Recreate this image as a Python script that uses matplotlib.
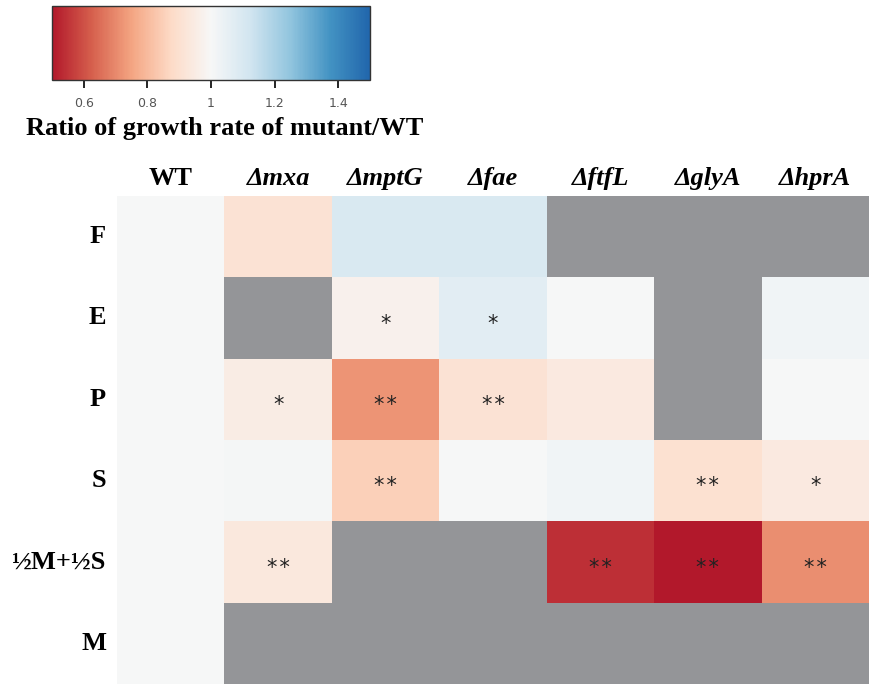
import numpy as np
import matplotlib.pyplot as plt
import matplotlib as mpl

strains = ["WT", "Δmxa", "ΔmptG", "Δfae", "ΔftfL", "ΔglyA", "ΔhprA"]
media = ["F", "E", "P", "S", "½M+½S", "M"]

# ratio of growth rate mutant/WT, nan = no growth / not measured
F_vals = [1.0, 0.91, 1.10, 1.10, np.nan, np.nan, np.nan]
E_vals = [1.0, np.nan, 0.97, 1.07, 1.00, np.nan, 1.02]
P_vals = [1.0, 0.95, 0.72, 0.91, 0.94, np.nan, 1.00]
S_vals = [1.0, 1.01, 0.85, 1.00, 1.02, 0.90, 0.94]
MS_vals = [1.0, 0.93, np.nan, np.nan, 0.54, 0.50, 0.71]
M_vals = [1.0, np.nan, np.nan, np.nan, np.nan, np.nan, np.nan]

F_sig = ["", "", "", "", "", "", ""]
E_sig = ["", "", "*", "*", "", "", ""]
P_sig = ["", "*", "**", "**", "", "", ""]
S_sig = ["", "", "**", "", "", "**", "*"]
MS_sig = ["", "**", "", "", "**", "**", "**"]
M_sig = ["", "", "", "", "", "", ""]

data = np.ma.masked_invalid(np.array([F_vals, E_vals, P_vals, S_vals, MS_vals, M_vals]))
sig = [F_sig, E_sig, P_sig, S_sig, MS_sig, M_sig]

# brewer RdBu, 9 classes
rdbu9 = ["#B2182B", "#D6604D", "#F4A582", "#FDDBC7", "#F7F7F7",
         "#D1E5F0", "#92C5DE", "#4393C3", "#2166AC"]
cmap = mpl.colors.LinearSegmentedColormap.from_list("rdbu9", rdbu9)
cmap.set_bad("#949598")
norm = mpl.colors.Normalize(vmin=0.5, vmax=1.5)

fig = plt.figure(figsize=(8.69, 6.84), dpi=100)
W, H = 869, 684

ax = fig.add_axes([117 / W, 0, (869 - 117) / W, (684 - 196) / H])
ax.pcolormesh(data, cmap=cmap, norm=norm)
ax.set_xlim(0, len(strains))
ax.set_ylim(len(media), 0)
for s in ax.spines.values():
    s.set_visible(False)
ax.set_xticks([])
ax.set_yticks([])

for i in range(len(media)):
    for j in range(len(strains)):
        if sig[i][j]:
            ax.text(j + 0.5, i + 0.57, "\u200a".join(sig[i][j]), ha="center",
                    va="center", fontsize=15, color="#222222", family="DejaVu Sans")

serif = ["Liberation Serif", "DejaVu Serif"]
for j, s in enumerate(strains):
    x = ax.transData.transform((j + 0.5, 0))[0] / W
    if s == "WT":
        fig.text(x, 1 - 178 / H, s, ha="center", va="center", fontsize=19,
                 fontweight="bold", family=serif)
    else:
        fig.text(x, 1 - 178 / H, s, ha="center", va="center", fontsize=19,
                 fontweight="bold", style="italic", family=serif)

for i, m in enumerate(media):
    y = ax.transData.transform((0, i + 0.5))[1] / H
    fig.text(106 / W, y, m, ha="right", va="center", fontsize=19,
             fontweight="bold", family=serif)

cax = fig.add_axes([52 / W, 1 - 80 / H, 318 / W, 74 / H])
cb = fig.colorbar(mpl.cm.ScalarMappable(norm=norm, cmap=cmap), cax=cax,
                  orientation="horizontal")
cb.set_ticks([0.6, 0.8, 1.0, 1.2, 1.4])
cb.set_ticklabels(["0.6", "0.8", "1", "1.2", "1.4"])
cax.tick_params(axis="x", length=6, width=1.2, labelsize=9, labelcolor="#555555", pad=6)
cb.outline.set_edgecolor("#333333")
cb.outline.set_linewidth(1.0)

fig.text(225 / W, 1 - 128 / H, "Ratio of growth rate of mutant/WT", ha="center",
         va="center", fontsize=19, fontweight="bold", family=serif)

fig.savefig("out.png", dpi=100)
